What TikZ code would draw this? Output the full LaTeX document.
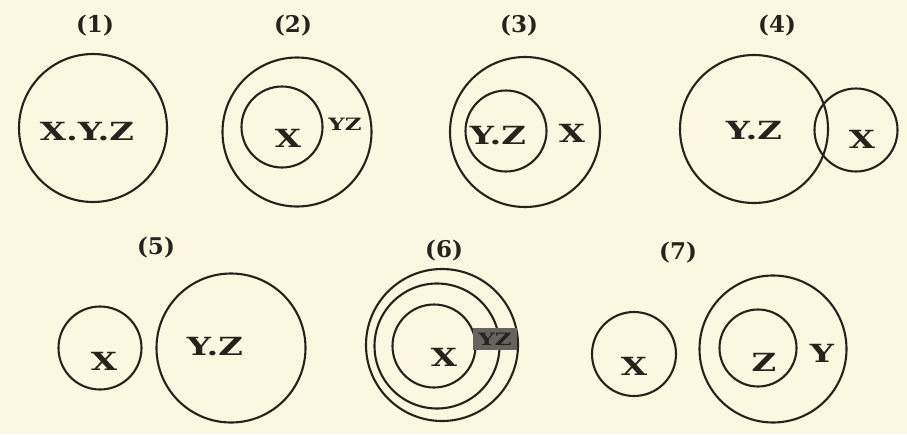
\documentclass[tikz,border=0pt]{standalone}
\usepackage{fontspec}
\usepackage{graphicx}
\setmainfont{DejaVu Serif}
\definecolor{papercol}{RGB}{251,247,225}
\definecolor{inkcol}{RGB}{38,34,28}
\newcommand{\widetype}[1]{\scalebox{1.35}[1]{#1}}

\begin{document}
\begin{tikzpicture}[
  x=1pt, y=-1pt,
  ring/.style={circle, draw=inkcol, line width=2.1pt, inner sep=0pt,
               minimum size=#1},
  term/.style={text=inkcol, inner sep=0pt,
               font=\fontsize{25}{25}\selectfont\bfseries},
  smallterm/.style={text=inkcol, inner sep=0pt,
                    font=\fontsize{17}{17}\selectfont\bfseries},
  num/.style={text=inkcol, inner sep=0pt,
              font=\fontsize{23}{23}\selectfont\bfseries}
]
  \fill[papercol] (0,0) rectangle (907,434);

  \node[num] (n1) at (95,26) {(1)};
  \node[ring=148pt] (c1) at (93,128) {};
  \node[term] (t1) at (87,132) {\widetype{X.Y.Z}};

  \node[num] (n2) at (293,26) {(2)};
  \node[ring=149pt] (c2) at (297,132) {};
  \node[ring=81pt] (c2x) at (282,127) {};
  \node[term] (t2x) at (288,138) {\widetype{X}};
  \node[smallterm] (t2y) at (345,124) {\widetype{YZ}};

  \node[num] (n3) at (519,26) {(3)};
  \node[ring=150pt] (c3) at (525,132) {};
  \node[ring=81pt] (c3y) at (506,131) {};
  \node[term] (t3y) at (498,136) {\widetype{Y.Z}};
  \node[term] (t3x) at (572,133) {\widetype{X}};

  \node[num] (n4) at (777,26) {(4)};
  \node[ring=148pt] (c4) at (754,129) {};
  \node[ring=83pt] (c4x) at (856,130) {};
  \node[term] (t4y) at (754,131) {\widetype{Y.Z}};
  \node[term] (t4x) at (862,139) {\widetype{X}};

  \node[num] (n5) at (156,248) {(5)};
  \node[ring=83pt] (c5x) at (100,348) {};
  \node[ring=149pt] (c5) at (231,348) {};
  \node[term] (t5x) at (104,361) {\widetype{X}};
  \node[term] (t5y) at (215,347) {\widetype{Y.Z}};

  \node[num] (n6) at (444,251) {(6)};
  \node[ring=152pt] (c6) at (442,345) {};
  \node[ring=125pt] (c6y) at (437,346) {};
  \node[ring=83pt] (c6x) at (434,346) {};
  \node[term] (t6x) at (444,357) {\widetype{X}};
  \node[smallterm, fill=inkcol!70, minimum width=44pt, minimum height=22pt]
    (t6y) at (495,339) {\widetype{YZ}};

  \node[num] (n7) at (678,253) {(7)};
  \node[ring=84pt] (c7x) at (634,354) {};
  \node[ring=147pt] (c7) at (773,349) {};
  \node[ring=77pt] (c7z) at (758,348) {};
  \node[term] (t7x) at (634,366) {\widetype{X}};
  \node[term] (t7z) at (764,362) {\widetype{Z}};
  \node[term] (t7y) at (822,353) {\widetype{Y}};
\end{tikzpicture}
\end{document}
